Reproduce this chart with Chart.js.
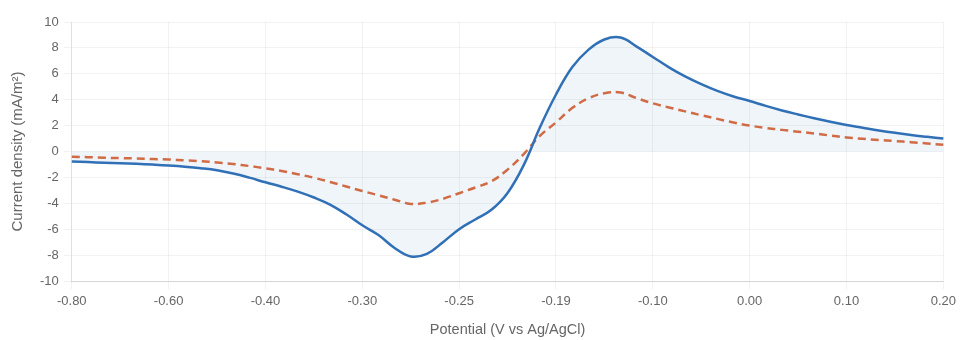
<!DOCTYPE html>
<html>
<head>
<meta charset="utf-8">
<script src="https://cdn.jsdelivr.net/npm/chart.js@4/dist/chart.umd.min.js"></script>
<style>
  html, body { margin: 0; padding: 0; background: #fff; overflow: hidden; }
  #wrap { width: 961px; height: 340px; }
</style>
</head>
<body>
<div id="wrap"><canvas id="c" width="961" height="340"></canvas></div>
<script>
// Potential (V vs Ag/AgCl) — category labels
const potentials = [
  -0.800, -0.767, -0.733, -0.700, -0.667, -0.633,
  -0.600, -0.567, -0.533, -0.500, -0.467, -0.433,
  -0.400, -0.383, -0.367, -0.350, -0.333, -0.317,
  -0.300, -0.292, -0.283, -0.275, -0.267, -0.258,
  -0.250, -0.240, -0.230, -0.220, -0.210, -0.200,
  -0.190, -0.175, -0.160, -0.145, -0.130, -0.115,
  -0.100, -0.083, -0.067, -0.050, -0.033, -0.017,
   0.000,  0.017,  0.033,  0.050,  0.067,  0.083,
   0.100,  0.117,  0.133,  0.150,  0.167,  0.183,
   0.200
];

// Current density (mA/m²), solid blue series
const seriesA = [
  -0.78, -0.82, -0.86, -0.90, -0.95, -1.01,
  -1.08, -1.17, -1.29, -1.45, -1.70, -2.02,
  -2.38, -2.72, -3.10, -3.55, -4.10, -4.85,
  -5.70, -6.45, -7.45, -8.10, -7.90, -7.00,
  -6.00, -5.25, -4.50, -3.20, -1.05,  1.85,
   4.40,  6.50,  7.85,  8.65,  8.80,  8.10,
   7.30,  6.50,  5.80,  5.20,  4.68,  4.25,
   3.90,  3.52,  3.17,  2.86,  2.57,  2.30,
   2.05,  1.84,  1.63,  1.44,  1.27,  1.13,
   1.00
];

// Current density (mA/m²), dashed orange series
const seriesB = [
  -0.40, -0.44, -0.48, -0.51, -0.54, -0.58,
  -0.62, -0.68, -0.75, -0.85, -0.97, -1.12,
  -1.30, -1.50, -1.75, -2.03, -2.35, -2.70,
  -3.05, -3.38, -3.72, -4.05, -3.95, -3.65,
  -3.22, -2.78, -2.30, -1.40, -0.20,  1.20,
   2.25,  3.35,  4.10,  4.50,  4.55,  4.12,
   3.72,  3.40,  3.10,  2.80,  2.52,  2.24,
   2.00,  1.82,  1.67,  1.53,  1.39,  1.23,
   1.08,  0.98,  0.89,  0.81,  0.72,  0.62,
   0.52
];

const yTicks = [-10, -8, -6, -4, -2, 0, 2, 4, 6, 8, 10];
const tickEvery = 6;

const labels = potentials.map(v => v.toFixed(2));
const FONT = "'Liberation Sans', Arial, sans-serif";

new Chart(document.getElementById('c'), {
  type: 'line',
  data: {
    labels: labels,
    datasets: [
      {
        label: 'A',
        data: seriesA,
        borderColor: '#3070b6',
        backgroundColor: 'rgba(48,112,182,0.07)',
        borderWidth: 2.5,
        fill: 'origin',
        tension: 0.4,
        pointRadius: 0
      },
      {
        label: 'B',
        data: seriesB,
        borderColor: '#dd6b3d',
        borderWidth: 2.5,
        borderDash: [8, 5],
        fill: false,
        tension: 0.4,
        pointRadius: 0
      }
    ]
  },
  options: {
    responsive: false,
    animation: false,
    devicePixelRatio: 1,
    layout: { padding: { left: 7, right: 0, top: 22, bottom: 0 } },
    plugins: { legend: { display: false }, tooltip: { enabled: false } },
    scales: {
      x: {
        type: 'category',
        grid: { color: 'rgba(0,0,0,0.05)', tickLength: 8 },
        border: { color: 'rgba(0,0,0,0.12)' },
        ticks: {
          autoSkip: false,
          maxRotation: 0,
          padding: 5,
          color: '#666',
          font: { family: FONT, size: 13 },
          callback: function (val, idx) { return idx % tickEvery === 0 ? this.getLabelForValue(val) : null; }
        },
        title: {
          display: true,
          text: 'Potential (V vs Ag/AgCl)',
          color: '#666',
          padding: { top: 7, bottom: 1 },
          font: { family: FONT, size: 14.5 }
        }
      },
      y: {
        min: yTicks[0],
        max: yTicks[yTicks.length - 1],
        afterBuildTicks: (axis) => { axis.ticks = yTicks.map(v => ({ value: v })); },
        grid: { color: 'rgba(0,0,0,0.05)', tickLength: 8 },
        border: { color: 'rgba(0,0,0,0.08)' },
        ticks: {
          padding: 5,
          color: '#666',
          font: { family: FONT, size: 13 }
        },
        title: {
          display: true,
          text: 'Current density (mA/m²)',
          color: '#666',
          padding: { top: 2, bottom: 8 },
          font: { family: FONT, size: 15 }
        }
      }
    }
  }
});
</script>
</body>
</html>
